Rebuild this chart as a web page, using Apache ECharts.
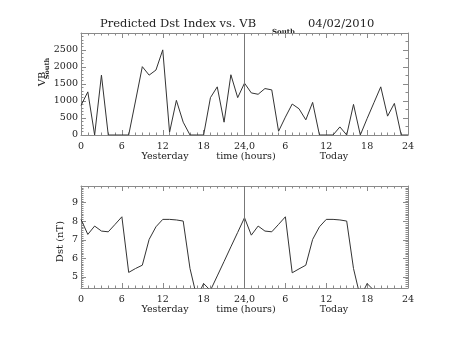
<!DOCTYPE html>
<html><head><meta charset="utf-8">
<script src="https://cdn.jsdelivr.net/npm/echarts@6/dist/echarts.min.js"></script>
<style>html,body{margin:0;padding:0;background:#fff}#c{width:453px;height:340px}</style>
</head><body><div id="c"></div>
<script>
const hours = [0,1,2,3,4,5,6,7,8,9,10,11,12,13,14,15,16,17,18,19,20,21,22,23,24,25,26,27,28,29,30,31,32,33,34,35,36,37,38,39,40,41,42,43,44,45,46,47,48];
const vbSouth = [870,1268,0,1761,0,0,0,0,1000,2010,1761,1910,2504,80,1019,377,0,0,0,1099,1416,377,1772,1099,1525,1238,1198,1366,1327,110,525,911,772,446,960,0,0,0,238,0,900,0,485,950,1416,555,930,0,0];
const dst = [8.10,7.29,7.74,7.47,7.43,7.83,8.24,5.24,5.45,5.63,7.02,7.70,8.10,8.10,8.07,8.01,5.45,3.9,4.64,4.27,5.05,5.83,6.62,7.40,8.19,7.25,7.74,7.47,7.43,7.83,8.24,5.22,5.43,5.63,7.02,7.70,8.10,8.10,8.07,8.01,5.45,3.9,4.64,4.27,null,null,null,null,null];
const xTickValues = [0,6,12,18,24,30,36,42,48];
const xTickLabels = ['0','6','12','18','24,0','6','12','18','24'];
const vbTicks = [0,500,1000,1500,2000,2500];
const dstTickValues = [5,6,7,8,9];
const dstMinorValues = [];
for (let k = 45; k <= 99; k++) dstMinorValues.push(k / 10);

const FONT = '"DejaVu Serif", serif';
const frame = '#8a8a8a';
const txt = '#222';
const aLine = {show: true, onZero: false, lineStyle: {color: frame, width: 1}};

function xAx(grid, pos, labels) {
  return {
    type: 'value', gridIndex: grid, position: pos, min: 0, max: 48, interval: 6,
    axisLine: aLine,
    axisTick: {show: true, inside: true, length: 5, lineStyle: {color: frame}},
    minorTick: {show: true, splitNumber: 6, length: 2.5, lineStyle: {color: frame}},
    splitLine: {show: false},
    axisLabel: labels ? {show: true, margin: 7, color: txt, fontFamily: FONT, fontSize: 9.5,
      formatter: v => xTickLabels[xTickValues.indexOf(v)] ?? ''} : {show: false}
  };
}
const chart = echarts.init(document.getElementById('c'), null, {renderer: 'canvas'});
chart.setOption({
  animation: false,
  backgroundColor: '#fff',
  grid: [
    {left: 81, width: 327, top: 33, height: 102, containLabel: false},
    {left: 81, width: 327, top: 186, height: 102, containLabel: false}
  ],
  xAxis: [xAx(0, 'bottom', true), xAx(0, 'top', false), xAx(1, 'bottom', true), xAx(1, 'top', false)],
  yAxis: [
    {type: 'value', gridIndex: 0, position: 'left', min: 0, max: 3000, interval: 500,
     axisLine: aLine,
     axisTick: {show: true, inside: true, length: 5, lineStyle: {color: frame}},
     minorTick: {show: true, splitNumber: 5, length: 2.5, lineStyle: {color: frame}},
     splitLine: {show: false},
     axisLabel: {show: true, margin: 3, color: txt, fontFamily: FONT, fontSize: 9.5,
       formatter: v => vbTicks.indexOf(v) >= 0 ? String(v) : ''}},
    {type: 'value', gridIndex: 0, position: 'right', min: 0, max: 3000, interval: 500,
     axisLine: aLine,
     axisTick: {show: true, inside: true, length: 5, lineStyle: {color: frame}},
     minorTick: {show: true, splitNumber: 2, length: 2.5, lineStyle: {color: frame}},
     splitLine: {show: false}, axisLabel: {show: false}},
    {type: 'value', gridIndex: 1, position: 'left', min: 4.4, max: 9.9,
     axisLine: aLine,
     axisTick: {show: true, inside: true, length: 5, customValues: dstTickValues, lineStyle: {color: frame}},
     splitLine: {show: false},
     axisLabel: {show: true, margin: 3, color: txt, fontFamily: FONT, fontSize: 9.5, customValues: dstTickValues}},
    {type: 'value', gridIndex: 1, position: 'left', min: 4.4, max: 9.9,
     axisLine: {show: false, onZero: false},
     axisTick: {show: true, inside: true, length: 2.5, customValues: dstMinorValues, lineStyle: {color: frame}},
     splitLine: {show: false}, axisLabel: {show: false}},
    {type: 'value', gridIndex: 1, position: 'right', min: 4.4, max: 9.9,
     axisLine: aLine,
     axisTick: {show: true, inside: true, length: 5, customValues: dstTickValues, lineStyle: {color: frame}},
     splitLine: {show: false}, axisLabel: {show: false}},
    {type: 'value', gridIndex: 1, position: 'right', min: 4.4, max: 9.9,
     axisLine: {show: false, onZero: false},
     axisTick: {show: true, inside: true, length: 2.5, customValues: dstMinorValues, lineStyle: {color: frame}},
     splitLine: {show: false}, axisLabel: {show: false}}
  ],
  series: [
    {type: 'line', xAxisIndex: 0, yAxisIndex: 0, data: hours.map((h, i) => [h, vbSouth[i]]),
     showSymbol: false, symbol: 'none', lineStyle: {color: '#333', width: 1}, clip: true,
     markLine: {silent: true, symbol: 'none', label: {show: false}, lineStyle: {color: '#777', width: 1, type: 'solid'},
       data: [{xAxis: 24}]}},
    {type: 'line', xAxisIndex: 2, yAxisIndex: 2, data: hours.map((h, i) => [h, dst[i]]).filter(p => p[1] !== null),
     showSymbol: false, symbol: 'none', lineStyle: {color: '#333', width: 1}, clip: true,
     markLine: {silent: true, symbol: 'none', label: {show: false}, lineStyle: {color: '#777', width: 1, type: 'solid'},
       data: [{xAxis: 24}]}}
  ],
  graphic: [
    {type: 'text', x: 100, y: 24.5, style: {text: 'Predicted Dst Index vs. VB', font: '11.5px ' + FONT, fill: txt, textVerticalAlign: 'middle'}},
    {type: 'text', x: 272, y: 32, style: {text: 'South', font: 'bold 7px ' + FONT, fill: txt, textVerticalAlign: 'middle'}},
    {type: 'text', x: 308, y: 24.5, style: {text: '04/02/2010', font: '11.5px ' + FONT, fill: txt, textVerticalAlign: 'middle'}},
    {type: 'text', x: 42.5, y: 79, rotation: Math.PI / 2, style: {text: 'VB', font: '10px ' + FONT, fill: txt, textAlign: 'center', textVerticalAlign: 'middle'}},
    {type: 'text', x: 47.5, y: 68.5, rotation: Math.PI / 2, style: {text: 'South', font: 'bold 6.5px ' + FONT, fill: txt, textAlign: 'center', textVerticalAlign: 'middle'}},
    {type: 'text', x: 60, y: 241.5, rotation: Math.PI / 2, style: {text: 'Dst (nT)', font: '10px ' + FONT, fill: txt, textAlign: 'center', textVerticalAlign: 'middle'}},
    {type: 'text', x: 165, y: 157, style: {text: 'Yesterday', font: '9.5px ' + FONT, fill: txt, textAlign: 'center', textVerticalAlign: 'middle'}},
    {type: 'text', x: 246, y: 157, style: {text: 'time (hours)', font: '9.5px ' + FONT, fill: txt, textAlign: 'center', textVerticalAlign: 'middle'}},
    {type: 'text', x: 334, y: 157, style: {text: 'Today', font: '9.5px ' + FONT, fill: txt, textAlign: 'center', textVerticalAlign: 'middle'}},
    {type: 'text', x: 165, y: 310, style: {text: 'Yesterday', font: '9.5px ' + FONT, fill: txt, textAlign: 'center', textVerticalAlign: 'middle'}},
    {type: 'text', x: 246, y: 310, style: {text: 'time (hours)', font: '9.5px ' + FONT, fill: txt, textAlign: 'center', textVerticalAlign: 'middle'}},
    {type: 'text', x: 334, y: 310, style: {text: 'Today', font: '9.5px ' + FONT, fill: txt, textAlign: 'center', textVerticalAlign: 'middle'}}
  ]
});
</script></body></html>
